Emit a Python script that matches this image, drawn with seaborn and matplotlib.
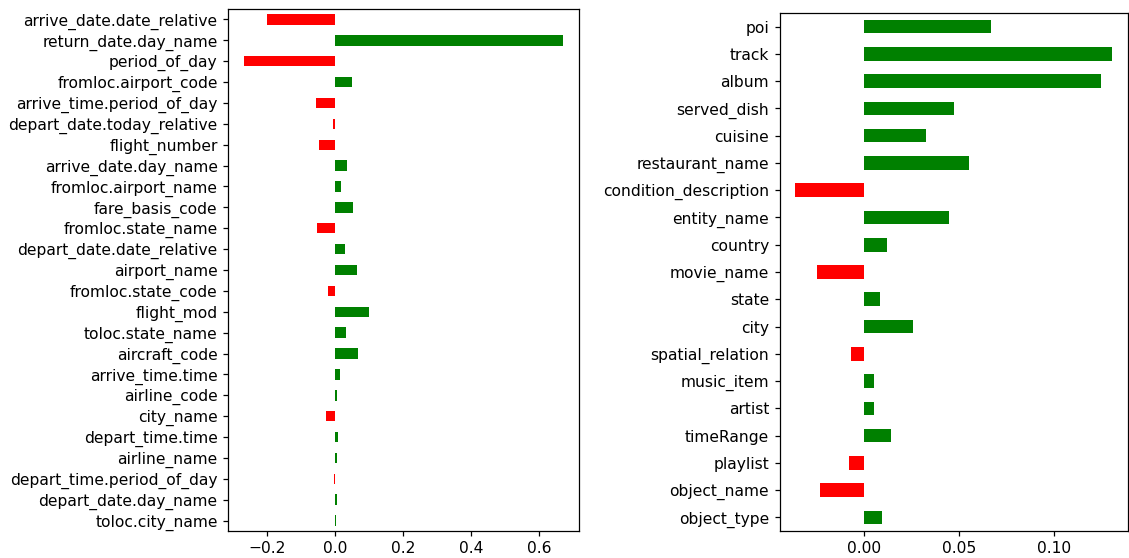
import matplotlib
matplotlib.use("Agg")
import matplotlib.pyplot as plt
import pandas as pd
import seaborn as sns

# ATIS slot types and their scores
atis_slots = [
    "arrive_date.date_relative", "return_date.day_name", "period_of_day",
    "fromloc.airport_code", "arrive_time.period_of_day", "depart_date.today_relative",
    "flight_number", "arrive_date.day_name", "fromloc.airport_name",
    "fare_basis_code", "fromloc.state_name", "depart_date.date_relative",
    "airport_name", "fromloc.state_code", "flight_mod", "toloc.state_name",
    "aircraft_code", "arrive_time.time", "airline_code", "city_name",
    "depart_time.time", "airline_name", "depart_time.period_of_day",
    "depart_date.day_name", "toloc.city_name",
]
atis_scores = [
    -0.200, 0.671, -0.268, 0.050, -0.056, -0.007, -0.047, 0.035, 0.018,
    0.053, -0.053, 0.029, 0.065, -0.021, 0.100, 0.032, 0.068, 0.015,
    0.006, -0.027, 0.009, 0.006, -0.004, 0.006, 0.002,
]

# SNIPS slot types and their scores
snips_slots = [
    "poi", "track", "album", "served_dish", "cuisine", "restaurant_name",
    "condition_description", "entity_name", "country", "movie_name", "state",
    "city", "spatial_relation", "music_item", "artist", "timeRange",
    "playlist", "object_name", "object_type",
]
snips_scores = [
    0.0668, 0.1305, 0.1247, 0.0474, 0.0326, 0.0553, -0.0363, 0.0447,
    0.0121, -0.0247, 0.0084, 0.0258, -0.0068, 0.0053, 0.0053, 0.0142,
    -0.0079, -0.0232, 0.0095,
]

palette = {"pos": "green", "neg": "red"}

scale = 1.12
plt.rcParams.update({
    "font.size": 10 * scale,
    "xtick.major.size": 3.5 * scale,
    "ytick.major.size": 3.5 * scale,
    "xtick.major.width": 0.8 * scale,
    "ytick.major.width": 0.8 * scale,
    "axes.linewidth": 0.8 * scale,
})


def draw(ax, slots, scores):
    df = pd.DataFrame({"slot": slots, "score": scores})
    df["sign"] = ["pos" if s >= 0 else "neg" for s in df["score"]]
    sns.barplot(data=df, x="score", y="slot", hue="sign", palette=palette,
                orient="h", dodge=False, width=0.5, errorbar=None,
                legend=False, ax=ax, saturation=1)
    ax.set_xlabel("")
    ax.set_ylabel("")
    lo, hi = min(scores), max(scores)
    pad = 0.05 * (hi - lo)
    ax.set_xlim(lo - pad, hi + pad)
    ax.set_ylim(len(slots) - 0.5, -0.5)
    for s in ax.spines.values():
        s.set_visible(True)


W, H = 1129, 558
fig = plt.figure(figsize=(W / 100, H / 100), dpi=100)
ax1 = fig.add_axes([228 / W, (H - 531) / H, (579 - 228) / W, (531 - 9) / H])
ax2 = fig.add_axes([779.5 / W, (H - 531) / H, (1128 - 779.5) / W, (531 - 13) / H])

draw(ax1, atis_slots, atis_scores)
draw(ax2, snips_slots, snips_scores)

ax1.set_xticks([-0.2, 0.0, 0.2, 0.4, 0.6])
ax2.set_xticks([0.0, 0.05, 0.10])
ax2.set_xticklabels(["0.00", "0.05", "0.10"])

fig.savefig("out.png", dpi=100)
